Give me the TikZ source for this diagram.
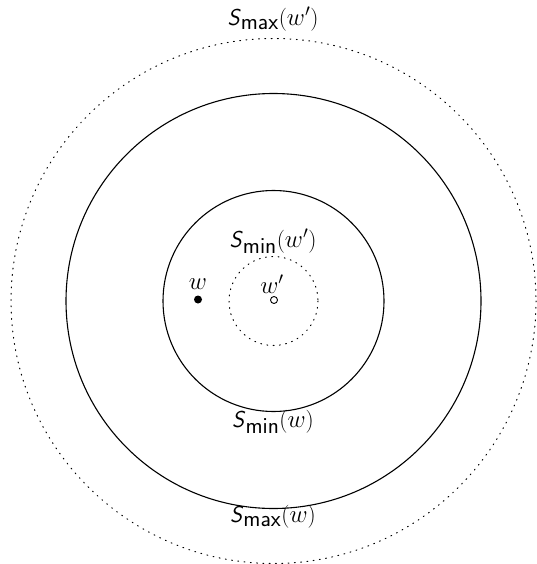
\documentclass[tikz,border=0pt]{standalone}
\begin{document}
\begin{tikzpicture}[x=1pt,y=-1pt,
  solidring/.style={draw=black,line width=1.1pt},
  dotring/.style={draw=black,line width=1pt,dash pattern=on 0.9pt off 5.4pt,line cap=round},
  lbl/.style={inner sep=0pt,font=\fontsize{23}{27}\selectfont},
  wname/.style={inner sep=0pt,font=\fontsize{23}{27}\selectfont}]
\newcommand{\Sfun}[2]{\textsf{\textit{S}}$_{\textsf{#1}}$($#2$)}
\useasboundingbox (0,0) rectangle (537,564);
\coordinate (c) at (273.5,301);
\draw[dotring] (c) circle[radius=262.5];
\draw[solidring] (c) circle[radius=207.5];
\draw[solidring] (c) circle[radius=110.5];
\draw[dotring] (c) circle[radius=44.5];
\node[circle,fill=black,inner sep=0pt,minimum size=8pt] (w) at (198,299.5) {};
\node[circle,draw=black,fill=white,line width=0.9pt,inner sep=0pt,minimum size=7pt] (wp) at (274,300) {};
\node[wname] (wl) at (198,284) {$w$};
\node[wname] (wpl) at (272,284) {$w'$};
\node[lbl] (smaxwp) at (273,19.5) {\Sfun{max}{w'}};
\node[lbl] (sminwp) at (273,241) {\Sfun{min}{w'}};
\node[lbl] (sminw) at (273,422) {\Sfun{min}{w}};
\node[lbl] (smaxw) at (273,517) {\Sfun{max}{w}};
\end{tikzpicture}
\end{document}
